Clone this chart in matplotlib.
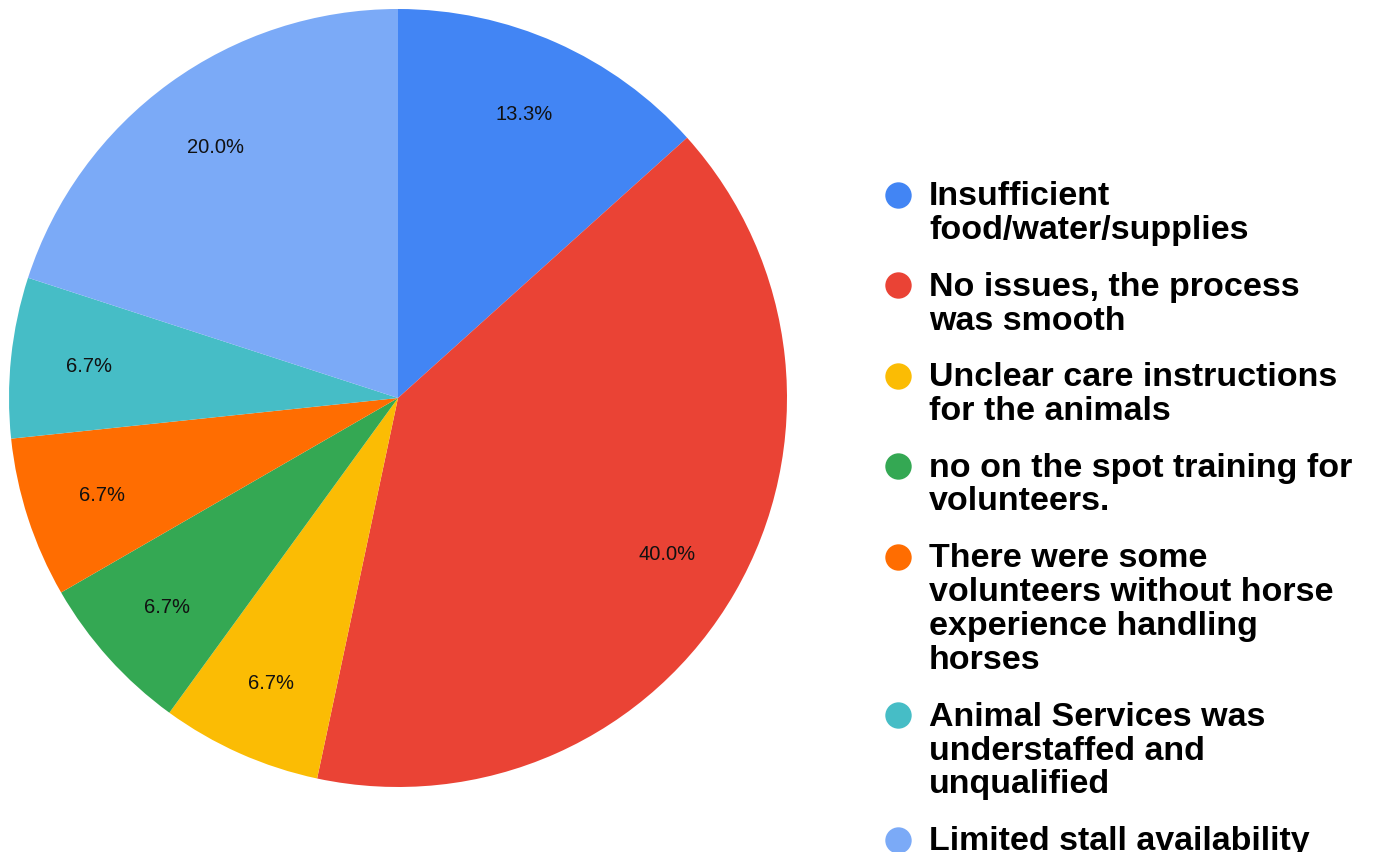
import matplotlib
matplotlib.use("Agg")
import matplotlib.pyplot as plt

labels = [
    "Insufficient\nfood/water/supplies",
    "No issues, the process\nwas smooth",
    "Unclear care instructions\nfor the animals",
    "no on the spot training for\nvolunteers.",
    "There were some\nvolunteers without horse\nexperience handling\nhorses",
    "Animal Services was\nunderstaffed and\nunqualified",
    "Limited stall availability",
]
counts = [2, 6, 1, 1, 1, 1, 3]
colors = ["#4285F4", "#EA4335", "#FBBC04", "#34A853", "#FF6D01", "#46BDC6", "#7BAAF7"]

W, H = 1374, 853
fig = plt.figure(figsize=(W / 100, H / 100), dpi=100)

# pie: centre (398, 399) px, radius 389 px
cx, cy, r = 398, 399, 389
ax = fig.add_axes([(cx - r) / W, (H - cy - r) / H, 2 * r / W, 2 * r / H])
wedges, texts, autotexts = ax.pie(
    counts, colors=colors, startangle=90, counterclock=False,
    autopct="%1.1f%%", pctdistance=0.8, radius=1,
    wedgeprops=dict(linewidth=0),
    textprops=dict(fontsize=14.5, family="Liberation Sans", color="#111111"),
)
ax.set_xlim(-1, 1)
ax.set_ylim(-1, 1)
ax.set_aspect("auto")
ax.axis("off")

# legend drawn by hand so the marker sits on the first line
lax = fig.add_axes([0, 0, 1, 1])
lax.set_xlim(0, W)
lax.set_ylim(H, 0)
lax.axis("off")

line_pitch = 34
gap = 56.5
y = 205
for lab, col in zip(labels, colors):
    lines = lab.split("\n")
    lax.plot(898, y - 9.5, "o", color=col, markersize=19, markeredgewidth=0)
    for j, ln in enumerate(lines):
        lax.text(929, y + j * line_pitch, ln, fontsize=24.5, fontweight="bold",
                 family="Liberation Sans", color="black", va="baseline", ha="left")
    y += (len(lines) - 1) * line_pitch + gap

fig.savefig("out.png", dpi=100)
